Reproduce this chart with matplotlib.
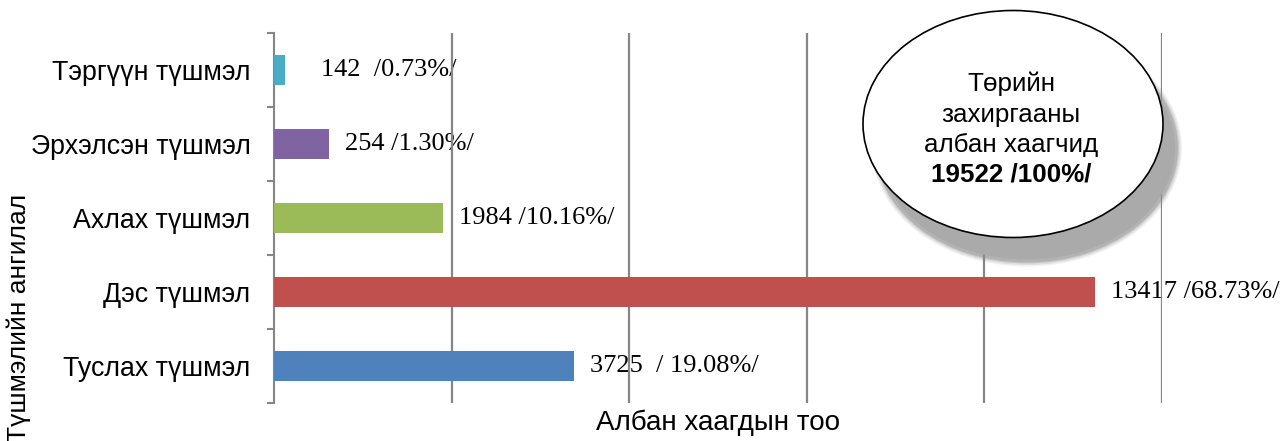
import matplotlib

matplotlib.use("Agg")
import matplotlib.pyplot as plt
import numpy as np
from matplotlib.patches import Ellipse

# --- data -------------------------------------------------------------
categories = ["Тэргүүн түшмэл", "Эрхэлсэн түшмэл", "Ахлах түшмэл", "Дэс түшмэл", "Туслах түшмэл"]
counts = [142, 254, 1984, 13417, 3725]
percents = [0.73, 1.30, 10.16, 68.73, 19.08]
# bar lengths as drawn in the source chart (it is not to scale with the counts)
bar_lengths = [124, 620, 1900, 9245, 3380]
value_labels = ["   142  /0.73%/", "254 /1.30%/", "1984 /10.16%/", "13417 /68.73%/", "3725  / 19.08%/"]
bar_colors = ["#4BACC6", "#8064A2", "#9BBB59", "#C0504D", "#4F81BD"]
total_lines = ["Төрийн", "захиргааны", "албан хаагчид"]
total_value = "19522 /100%/"

W, H = 1284, 441
SANS = "Liberation Sans"
SERIF = "Liberation Serif"
GRID = "#868686"


def fx(px):
    return px / W


def fy(py):
    return 1 - py / H


fig = plt.figure(figsize=(W / 100, H / 100), dpi=100)
ax = fig.add_axes([fx(274), fy(403), fx(1162) - fx(274), fy(33) - fy(403)])

y = np.arange(len(categories))
ax.barh(y, bar_lengths, height=0.4, color=bar_colors, zorder=3)
ax.set_xlim(0, 10000)
ax.set_ylim(len(categories) - 0.5, -0.5)

ax.set_xticks(np.arange(2000, 10001, 2000))
ax.tick_params(axis="x", length=0, labelbottom=False)
ax.set_axisbelow(True)
ax.grid(axis="x", color=GRID, lw=1.6)

ax.set_yticks(y)
ax.set_yticklabels(categories, fontsize=19.3, family=SANS)
ax.tick_params(axis="y", which="major", length=0, pad=17)
ax.set_yticks(np.arange(-0.5, len(categories)), minor=True)
ax.tick_params(axis="y", which="minor", length=5, width=1.5, color=GRID)

for side in ["top", "right", "bottom"]:
    ax.spines[side].set_visible(False)
ax.spines["left"].set_color(GRID)
ax.spines["left"].set_linewidth(1.5)

for i, (length, text) in enumerate(zip(bar_lengths, value_labels)):
    ax.annotate(text, (length, i), xytext=(11.5, 0), textcoords="offset points",
                va="center", ha="left", fontsize=19, family=SERIF, zorder=0.4)

ax.set_xlabel("Албан хаагдын тоо", fontsize=20, family=SANS, labelpad=5)
fig.text(fx(19), fy(318), "Түшмэлийн ангилал", rotation=90, ha="center", va="center",
         fontsize=19, family=SANS)

# --- total bubble with soft shadow ------------------------------------
cx, cy, ew, eh = 1013, 124, 300, 227
sx, sy = cx + 14, cy + 24
for k, a in zip([10, 7, 4, 2], [0.12, 0.18, 0.25, 0.35]):
    fig.patches.append(Ellipse((fx(sx), fy(sy)), fx(ew + k), (eh + k) / H, transform=fig.transFigure,
                               facecolor="#8c8c8c", edgecolor="none", alpha=a, zorder=5))
fig.patches.append(Ellipse((fx(sx), fy(sy)), fx(ew - 4), (eh - 4) / H, transform=fig.transFigure,
                           facecolor="#aaaaaa", edgecolor="none", zorder=6))
fig.patches.append(Ellipse((fx(cx), fy(cy)), fx(ew), eh / H, transform=fig.transFigure,
                           facecolor="white", edgecolor="black", lw=1.2, zorder=7))

baselines = [91, 122, 152]
for line, by in zip(total_lines, baselines):
    fig.text(fx(1011), fy(by), line, ha="center", va="baseline", fontsize=18.7, family=SANS, zorder=8)
fig.text(fx(1011), fy(182), total_value, ha="center", va="baseline", fontsize=18.7,
         family=SANS, weight="bold", zorder=8)

fig.savefig("out.png", dpi=100)
